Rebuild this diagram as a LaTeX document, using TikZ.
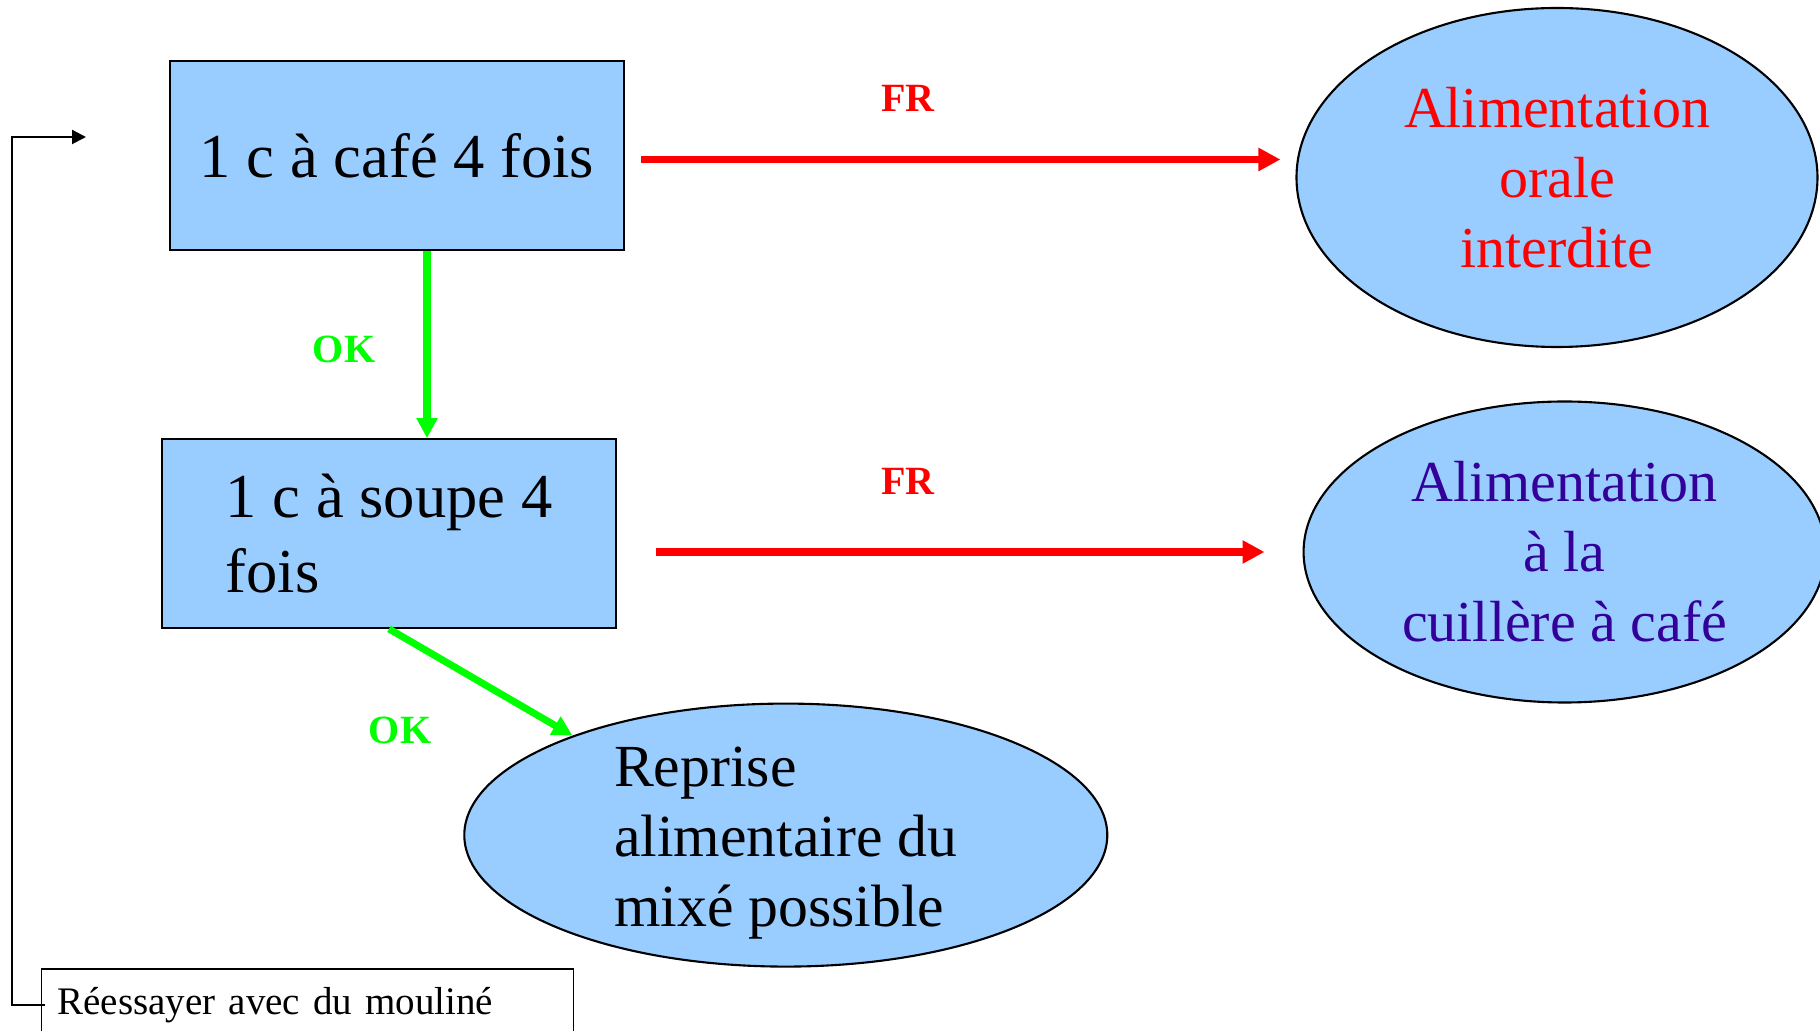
\documentclass[tikz,border=0pt]{standalone}
\usepackage{fontspec}
\setmainfont{Liberation Serif}
\usetikzlibrary{shapes.geometric, arrows.meta}

\definecolor{boxblue}{HTML}{99CCFF}
\definecolor{inkblue}{HTML}{330099}
\definecolor{okgreen}{HTML}{00FF00}
\definecolor{frred}{HTML}{FF0000}

\tikzset{
    stepbox/.style={draw, line width=0.5pt, fill=boxblue, rectangle, minimum width=4.54cm, minimum height=1.89cm, inner sep=0pt, font=\fontsize{17.8}{21.5}\selectfont},
    outcome/.style={draw, line width=0.6pt, fill=boxblue, ellipse, inner sep=0pt, font=\fontsize{16.5}{19.9}\selectfont},
    frarrow/.style={draw=frred, line width=2.1pt, -{Triangle[length=0.22cm,width=0.22cm]}},
    okarrow/.style={draw=okgreen, line width=2pt, -{Triangle[length=0.2cm,width=0.2cm]}},
    fbarrow/.style={draw, line width=0.6pt, -{Triangle[length=0.14cm,width=0.14cm]}},
    frlabel/.style={text=frred, font=\fontsize{11.4}{13}\selectfont\bfseries},
    oklabel/.style={text=okgreen, font=\fontsize{11.4}{13}\selectfont\bfseries}
}

\begin{document}
\begin{tikzpicture}
    \useasboundingbox (0,0) rectangle (18.2,-10.31);
    \clip (0,0) rectangle (18.2,-10.31);
    % steps
    \node[stepbox] (cafe) at (3.97,-1.555) {1 c à café 4 fois};
    \node[stepbox, align=left] (soupe) at (3.89,-5.335) {1 c à soupe 4\\fois};
    % outcomes
    \node[outcome, minimum width=5.21cm, minimum height=3.39cm, text=frred, align=center] (orale) at (15.57,-1.775) {Alimentation\\orale\\interdite};
    \node[outcome, minimum width=5.22cm, minimum height=3.01cm, text=inkblue, align=center] (cuillere) at (15.646,-5.52) {Alimentation\\à la\\cuillère à café};
    \node[outcome, minimum width=6.43cm, minimum height=2.63cm] (reprise) at (7.858,-8.351) {};
    \node[align=left, font=\fontsize{17}{19.9}\selectfont] (reprisetext) at ([yshift=-0.84mm]reprise.center) {Reprise\\alimentaire du\\mixé possible};
    \node[draw, line width=0.5pt, anchor=north west, minimum height=0.72cm, text width=5.0cm, inner xsep=0.16cm, align=left, font=\fontsize{11.1}{13}\selectfont] (retry) at (0.407,-9.68) {Réessayer avec du mouliné};
    % arrows
    \draw[okarrow] ([xshift=3mm]cafe.south) -- ([xshift=3mm]cafe.south |- soupe.north);
    \draw[frarrow] ([xshift=1.6mm,yshift=-0.4mm]cafe.east) -- ([xshift=-1.5mm,yshift=-0.4mm]cafe.east -| orale.west);
    \draw[frarrow] ([xshift=3.9mm]soupe.east |- cuillere.west) -- ([xshift=-3.8mm]cuillere.west);
    \draw[okarrow] (soupe.south) -- (reprise.155);
    \coordinate (back) at (0.86,-1.37);
    \draw[fbarrow] ([xshift=0.4mm]retry.west) -| (0.12,-1.37) -- (back);
    % labels
    \node[frlabel] (fr1) at (9.08,-0.98) {FR};
    \node[frlabel] (fr2) at (9.08,-4.81) {FR};
    \node[oklabel] (ok1) at (3.44,-3.49) {OK};
    \node[oklabel] (ok2) at (4.00,-7.30) {OK};
\end{tikzpicture}
\end{document}
